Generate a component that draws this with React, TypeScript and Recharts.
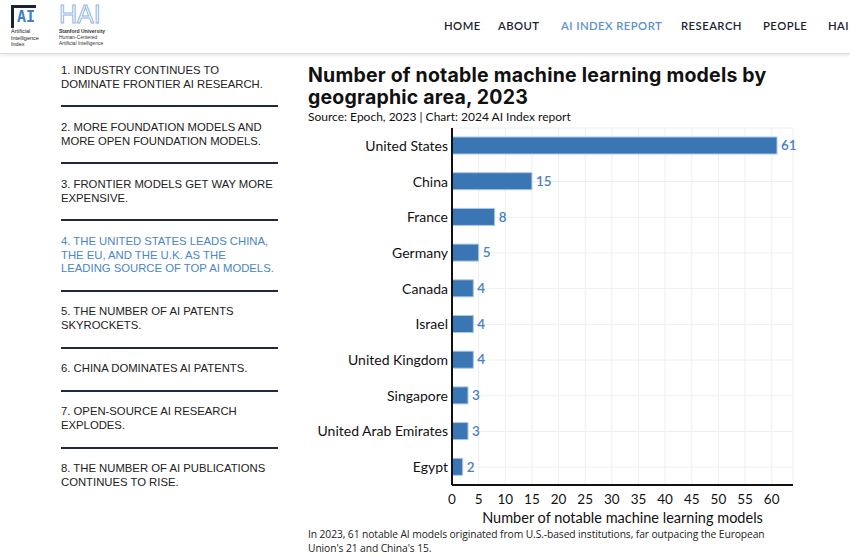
import React from 'react';
import { BarChart, Bar, XAxis, YAxis, CartesianGrid, LabelList } from 'recharts';

const countries = [
  'United States',
  'China',
  'France',
  'Germany',
  'Canada',
  'Israel',
  'United Kingdom',
  'Singapore',
  'United Arab Emirates',
  'Egypt',
];
const modelCounts = [61, 15, 8, 5, 4, 4, 4, 3, 3, 2];
const xTicks = [0, 5, 10, 15, 20, 25, 30, 35, 40, 45, 50, 55, 60];

const navItems = ['HOME', 'ABOUT', 'AI INDEX REPORT', 'RESEARCH', 'PEOPLE', 'HAI'];
const navX = [444, 498, 561, 681, 763, 828];

// sidebar takeaways, line breaks as on the page
const takeaways = [
  '1. INDUSTRY CONTINUES TO\nDOMINATE FRONTIER AI RESEARCH.',
  '2. MORE FOUNDATION MODELS AND\nMORE OPEN FOUNDATION MODELS.',
  '3. FRONTIER MODELS GET WAY MORE\nEXPENSIVE.',
  '4. THE UNITED STATES LEADS CHINA,\nTHE EU, AND THE U.K. AS THE\nLEADING SOURCE OF TOP AI MODELS.',
  '5. THE NUMBER OF AI PATENTS\nSKYROCKETS.',
  '6. CHINA DOMINATES AI PATENTS.',
  '7. OPEN-SOURCE AI RESEARCH\nEXPLODES.',
  '8. THE NUMBER OF AI PUBLICATIONS\nCONTINUES TO RISE.',
];
const takeawayTop = [64, 121, 178, 235, 305, 362, 405, 462];
const dividerTop = [105, 162, 219, 290, 347, 390, 447];
const activeTakeaway = 3;

const data = countries.map((country, i) => ({ country, count: modelCounts[i] }));

const chartFont = 'Lato, "Open Sans", sans-serif';
const barBlue = '#3a76b3';
const labelBlue = '#4a80c4';

const Header = () => (
  <div
    style={{
      position: 'absolute',
      left: 0,
      top: 0,
      width: 850,
      height: 53,
      background: '#fff',
      borderBottom: '1px solid #d6d9de',
      boxShadow: '0 2px 3px rgba(0,0,0,0.08)',
    }}
  >
    {/* AI Index logo */}
    <div style={{ position: 'absolute', left: 11, top: 5, width: 22, height: 20, borderLeft: '3px solid #1b2333', borderTop: '3px solid #1b2333' }} />
    <div style={{ position: 'absolute', left: 17, top: 8, fontFamily: 'DejaVu Sans Mono, monospace', fontWeight: 700, fontSize: 15, color: '#3f7fc7' }}>AI</div>
    <div style={{ position: 'absolute', left: 11, top: 28, fontFamily: 'Liberation Sans, Arial', fontSize: 5.5, lineHeight: '6.5px', color: '#222' }}>
      Artificial<br />Intelligence<br />Index
    </div>
    {/* HAI logo */}
    <div
      style={{
        position: 'absolute',
        left: 59,
        top: 0,
        fontFamily: 'Liberation Sans, Arial',
        fontSize: 25,
        fontWeight: 300,
        letterSpacing: 0,
        color: 'transparent',
        WebkitTextStroke: '1px #8db6e3',
      }}
    >
      HAI
    </div>
    <div style={{ position: 'absolute', left: 59, top: 28, fontFamily: 'Liberation Sans, Arial', fontSize: 5, lineHeight: '6px', color: '#333' }}>
      <b>Stanford University</b><br />Human-Centered<br />Artificial Intelligence
    </div>
    {navItems.map((item, i) => (
      <div
        key={item}
        style={{
          position: 'absolute',
          left: navX[i],
          top: 19,
          fontFamily: chartFont,
          fontSize: 11.3,
          fontWeight: 600,
          letterSpacing: 0.45,
          whiteSpace: 'nowrap',
          color: item === 'AI INDEX REPORT' ? '#5b8fcf' : '#1b2333',
        }}
      >
        {item}
      </div>
    ))}
  </div>
);

const Sidebar = () => (
  <div style={{ fontFamily: 'Liberation Sans, Arial, sans-serif', fontSize: 11.3, lineHeight: '13.6px' }}>
    {takeaways.map((t, i) => (
      <div
        key={t}
        style={{
          position: 'absolute',
          left: 61,
          top: takeawayTop[i],
          whiteSpace: 'pre',
          color: i === activeTakeaway ? '#4a86c8' : '#222',
        }}
      >
        {t}
      </div>
    ))}
    {dividerTop.map((y) => (
      <div key={y} style={{ position: 'absolute', left: 61, top: y, width: 217, height: 2, background: '#1e2a40' }} />
    ))}
  </div>
);

const App = () => (
  <div style={{ position: 'absolute', left: 0, top: 0, width: 850, height: 557, background: '#fff', overflow: 'hidden' }}>
    <Header />
    <Sidebar />
    <div style={{ position: 'absolute', left: 308, top: 65, color: '#111' }}>
      <div style={{ fontFamily: 'Inter, Lato, sans-serif', fontSize: 19.5, fontWeight: 700, lineHeight: '21.5px', letterSpacing: 0.2, width: 500 }}>
        Number of notable machine learning models by
        <br />
        geographic area, 2023
      </div>
      <div style={{ fontFamily: chartFont, fontSize: 12, marginTop: 1 }}>Source: Epoch, 2023 | Chart: 2024 AI Index report</div>
    </div>
    <div style={{ position: 'absolute', left: 300, top: 120 }}>
      <BarChart
        width={510}
        height={420}
        data={data}
        layout="vertical"
        margin={{ top: 8, right: 17, bottom: 0, left: 0 }}
      >
        <CartesianGrid stroke="#efefef" strokeWidth={1} />
        <XAxis
          type="number"
          domain={[0, 64]}
          ticks={xTicks}
          tickLine={false}
          axisLine={{ stroke: '#111', strokeWidth: 2 }}
          tick={{ fill: '#111', fontSize: 13.5, fontFamily: chartFont }}
          tickMargin={3}
          height={55}
          label={{
            value: 'Number of notable machine learning models',
            position: 'insideBottom',
            offset: 17,
            fill: '#111',
            fontSize: 14.5,
            fontFamily: chartFont,
          }}
        />
        <YAxis
          type="category"
          dataKey="country"
          width={152}
          tickLine={false}
          axisLine={{ stroke: '#111', strokeWidth: 2 }}
          tick={{ fill: '#111', fontSize: 14, fontFamily: chartFont }}
          tickMargin={-2}
          interval={0}
        />
        <Bar dataKey="count" fill={barBlue} stroke="#a9c6e8" strokeWidth={1} barSize={17} isAnimationActive={false}>
          <LabelList dataKey="count" position="right" offset={4} fill={labelBlue} fontSize={13.5} fontWeight={600} fontFamily={chartFont} />
        </Bar>
      </BarChart>
    </div>
    <div
      style={{
        position: 'absolute',
        left: 308,
        top: 527,
        fontFamily: '"Open Sans", sans-serif',
        fontSize: 10.3,
        lineHeight: '14px',
        letterSpacing: -0.1,
        color: '#222',
        whiteSpace: 'nowrap',
      }}
    >
      In 2023, 61 notable AI models originated from U.S.-based institutions, far outpacing the European
      <br />
      Union's 21 and China's 15.
    </div>
  </div>
);

export default App;
